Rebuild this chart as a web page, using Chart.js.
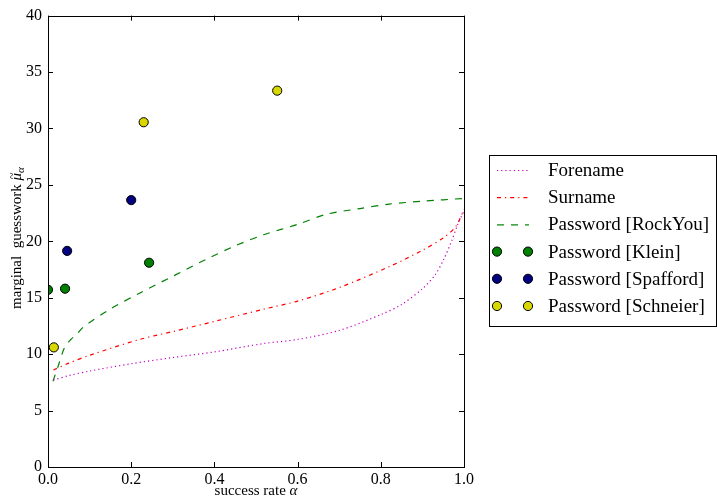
<!DOCTYPE html>
<html>
<head>
<meta charset="utf-8">
<script src="https://cdn.jsdelivr.net/npm/chart.js@4"></script>
<style>
  html, body { margin: 0; padding: 0; background: #fff; }
  #wrap { width: 717px; height: 500px; }
</style>
</head>
<body>
<div id="wrap"><canvas id="chart" width="717" height="500"></canvas></div>
<script>
// --- data ---
const forenameX = [0.013, 0.05, 0.1, 0.2, 0.3, 0.4, 0.52, 0.6, 0.7, 0.8, 0.85, 0.9, 0.93, 0.95, 0.97, 0.985, 1.0];
const forenameY = [7.7, 8.1, 8.5, 9.15, 9.7, 10.2, 10.95, 11.3, 12.1, 13.5, 14.4, 15.8, 17.0, 18.3, 20.0, 21.5, 22.7];

const surnameX = [0.013, 0.05, 0.1, 0.22, 0.3, 0.4, 0.52, 0.6, 0.7, 0.82, 0.9, 0.95, 0.98, 1.0];
const surnameY = [8.6, 9.2, 9.9, 11.3, 12.0, 12.9, 14.0, 14.7, 15.9, 17.75, 19.2, 20.3, 21.3, 22.8];

const rockyouX = [0.012, 0.025, 0.04, 0.055, 0.07, 0.085, 0.15, 0.22, 0.3, 0.38, 0.45, 0.52, 0.6, 0.67, 0.75, 0.82, 0.9, 1.0];
const rockyouY = [7.6, 9.0, 10.6, 11.3, 11.8, 12.4, 14.0, 15.4, 16.9, 18.4, 19.6, 20.6, 21.5, 22.4, 22.9, 23.3, 23.55, 23.8];

const kleinX = [0.0, 0.041, 0.243];
const kleinY = [15.7, 15.8, 18.1];
const spaffordX = [0.046, 0.2];
const spaffordY = [19.15, 23.65];
const schneierX = [0.014, 0.23, 0.551];
const schneierY = [10.6, 30.55, 33.35];

const xTicks = [0, 0.2, 0.4, 0.6, 0.8, 1.0];
const yTicks = [0, 5, 10, 15, 20, 25, 30, 35, 40];

const SERIF = '"Liberation Serif", "DejaVu Serif", serif';

const pts = (xs, ys) => xs.map((x, i) => ({ x: x, y: ys[i] }));

function lineSet(label, xs, ys, color, dash) {
    return {
        label: label, data: pts(xs, ys), showLine: true,
        borderColor: color, borderWidth: 1.2, borderDash: dash,
        pointRadius: 0, pointHoverRadius: 0, fill: false, tension: 0.3,
        clip: 0, order: 2, kind: 'line'
    };
}
function markSet(label, xs, ys, color) {
    return {
        label: label, data: pts(xs, ys), showLine: false,
        backgroundColor: color, borderColor: '#000', borderWidth: 1,
        pointRadius: 4.6, pointHoverRadius: 4.6,
        clip: 0, order: 1, kind: 'mark'
    };
}

const datasets = [
    lineSet('Forename', forenameX, forenameY, '#c000c0', [1.2, 3]),
    lineSet('Surname', surnameX, surnameY, '#ff0000', [4, 4, 1.2, 4]),
    lineSet('Password [RockYou]', rockyouX, rockyouY, '#008000', [7, 7]),
    markSet('Password [Klein]', kleinX, kleinY, '#008000'),
    markSet('Password [Spafford]', spaffordX, spaffordY, '#000080'),
    markSet('Password [Schneier]', schneierX, schneierY, '#d8d800')
];

// frame, inward ticks, axis titles and legend
const decorations = {
    id: 'decorations',
    afterDraw(chart) {
        const ctx = chart.ctx;
        const a = chart.chartArea;
        const xs = chart.scales.x, ys = chart.scales.y;
        ctx.save();
        ctx.strokeStyle = '#000';
        ctx.lineWidth = 1;
        ctx.setLineDash([]);
        ctx.strokeRect(Math.round(a.left) + 0.5, Math.round(a.top) + 0.5,
            Math.round(a.right - a.left), Math.round(a.bottom - a.top));
        ctx.beginPath();
        xTicks.forEach(v => {
            const px = Math.round(xs.getPixelForValue(v)) + 0.5;
            ctx.moveTo(px, a.bottom); ctx.lineTo(px, a.bottom - 5);
            ctx.moveTo(px, a.top); ctx.lineTo(px, a.top + 5);
        });
        yTicks.forEach(v => {
            const py = Math.round(ys.getPixelForValue(v)) + 0.5;
            ctx.moveTo(a.left, py); ctx.lineTo(a.left + 5, py);
            ctx.moveTo(a.right, py); ctx.lineTo(a.right - 5, py);
        });
        ctx.stroke();

        // x title
        ctx.fillStyle = '#000';
        ctx.textBaseline = 'alphabetic';
        ctx.textAlign = 'left';
        const xt1 = 'success rate ', xt2 = 'α';
        ctx.font = '15px ' + SERIF;
        const w1 = ctx.measureText(xt1).width;
        ctx.font = 'italic 15px ' + SERIF;
        const w2 = ctx.measureText(xt2).width;
        const cx = (a.left + a.right) / 2;
        ctx.font = '15px ' + SERIF;
        ctx.fillText(xt1, cx - (w1 + w2) / 2, 495);
        ctx.font = 'italic 15px ' + SERIF;
        ctx.fillText(xt2, cx - (w1 + w2) / 2 + w1, 495);

        // y title, rotated
        ctx.save();
        ctx.translate(21, 238);
        ctx.rotate(-Math.PI / 2);
        const yt1 = 'marginal  guesswork ', yt2 = 'μ', yt3 = 'α';
        ctx.font = '15px ' + SERIF;
        const v1 = ctx.measureText(yt1).width;
        ctx.font = 'italic 15px ' + SERIF;
        const v2 = ctx.measureText(yt2).width;
        ctx.font = 'italic 11px ' + SERIF;
        const v3 = ctx.measureText(yt3).width;
        const sx = -(v1 + v2 + v3) / 2;
        ctx.font = '15px ' + SERIF;
        ctx.fillText(yt1, sx, 0);
        ctx.font = 'italic 15px ' + SERIF;
        ctx.fillText(yt2, sx + v1, 0);
        ctx.font = '12px ' + SERIF;
        ctx.fillText('~', sx + v1 + 1.5, -5);
        ctx.font = 'italic 11px ' + SERIF;
        ctx.fillText(yt3, sx + v1 + v2, 3);
        ctx.restore();

        // legend
        const bx = 489.5, by = 155.5, bw = 227, bh = 171;
        ctx.fillStyle = '#fff';
        ctx.fillRect(bx, by, bw, bh);
        ctx.strokeStyle = '#000';
        ctx.strokeRect(bx, by, bw, bh);
        const rowY0 = 170, rowStep = 27.2;
        chart.data.datasets.forEach((ds, i) => {
            const ry = rowY0 + i * rowStep;
            if (ds.kind === 'line') {
                ctx.strokeStyle = ds.borderColor;
                ctx.lineWidth = ds.borderWidth;
                ctx.setLineDash(ds.borderDash);
                ctx.beginPath();
                ctx.moveTo(497, ry + 0.5); ctx.lineTo(529, ry + 0.5);
                ctx.stroke();
                ctx.setLineDash([]);
            } else {
                [497, 528].forEach(mx => {
                    ctx.beginPath();
                    ctx.arc(mx, ry, ds.pointRadius, 0, Math.PI * 2);
                    ctx.fillStyle = ds.backgroundColor;
                    ctx.fill();
                    ctx.strokeStyle = '#000';
                    ctx.lineWidth = 1;
                    ctx.stroke();
                });
            }
            ctx.fillStyle = '#000';
            ctx.font = '19px ' + SERIF;
            ctx.textAlign = 'left';
            ctx.textBaseline = 'middle';
            ctx.fillText(ds.label, 548, ry + 1);
        });
        ctx.restore();
    }
};

new Chart(document.getElementById('chart'), {
    type: 'scatter',
    data: { datasets: datasets },
    options: {
        responsive: false,
        animation: false,
        events: [],
        layout: { padding: { left: 0, top: 14, right: 253, bottom: 0 } },
        plugins: { legend: { display: false }, tooltip: { enabled: false } },
        scales: {
            x: {
                type: 'linear', min: 0, max: 1,
                afterBuildTicks: s => { s.ticks = xTicks.map(v => ({ value: v })); },
                afterFit: s => { s.height = 33; },
                grid: { display: false, drawTicks: false, tickLength: 0 },
                border: { display: false },
                ticks: {
                    padding: 3, color: '#000', maxRotation: 0,
                    font: { family: SERIF, size: 16 },
                    callback: v => Number(v).toFixed(1)
                }
            },
            y: {
                type: 'linear', min: 0, max: 40,
                afterBuildTicks: s => { s.ticks = yTicks.map(v => ({ value: v })); },
                afterFit: s => { s.width = 48; },
                grid: { display: false, drawTicks: false, tickLength: 0 },
                border: { display: false },
                ticks: {
                    padding: 6, color: '#000',
                    font: { family: SERIF, size: 16 },
                    callback: v => String(v)
                }
            }
        }
    },
    plugins: [decorations]
});
</script>
</body>
</html>
